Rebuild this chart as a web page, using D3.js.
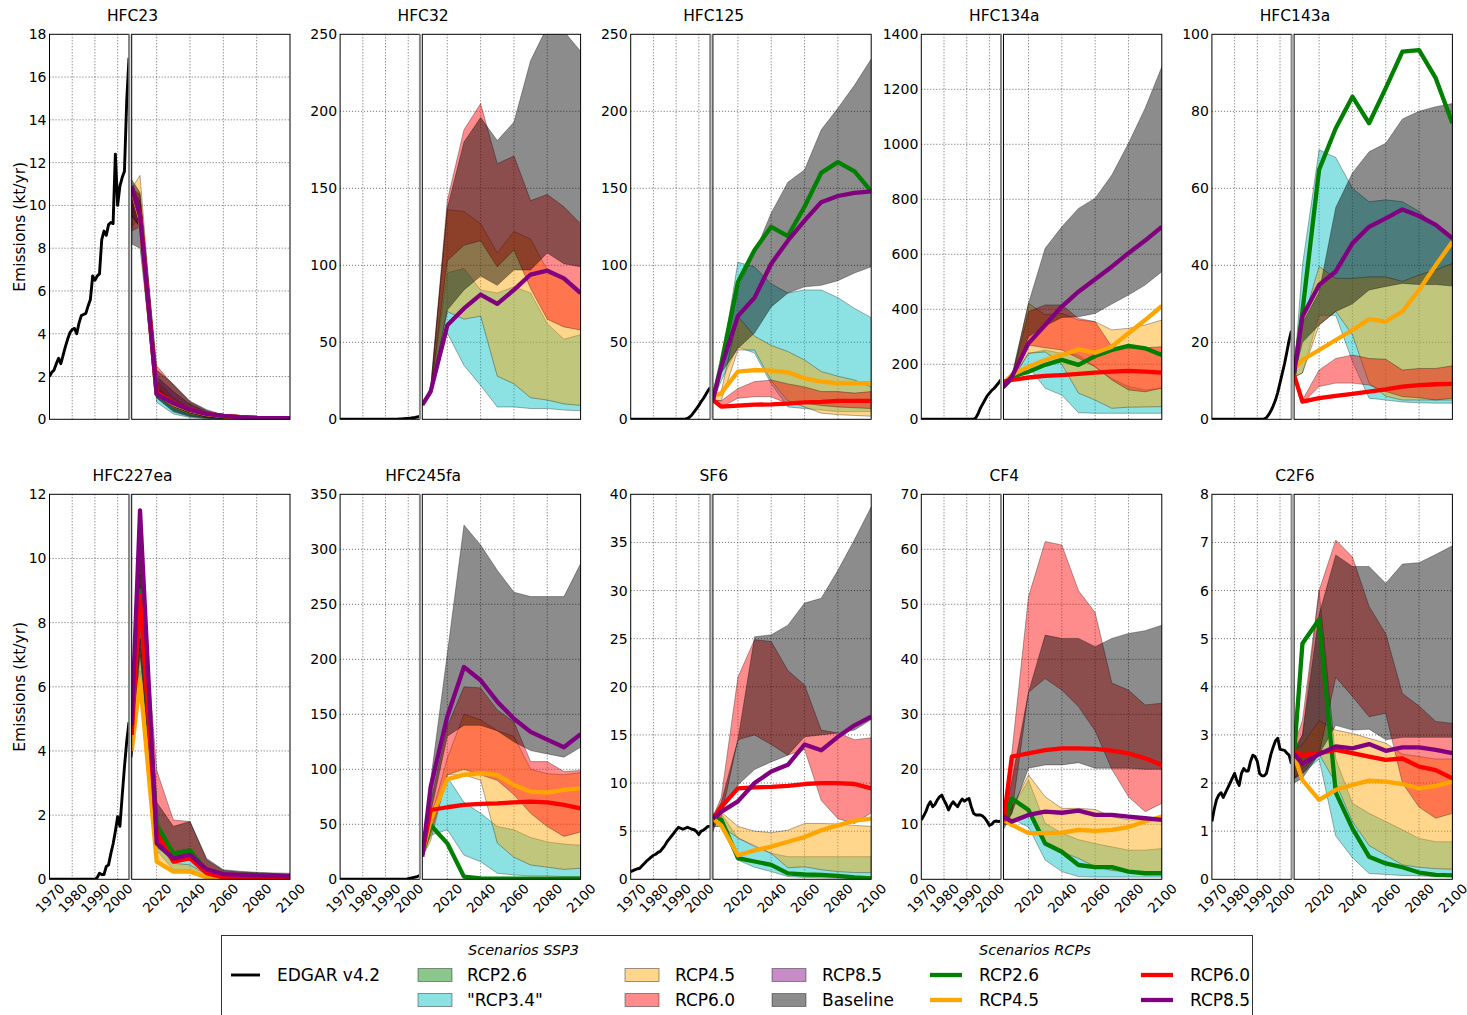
<!DOCTYPE html>
<html><head><meta charset="utf-8">
<script src="https://cdn.jsdelivr.net/npm/d3@7"></script>
<style>
body{margin:0;background:#fff}
text{font-family:"DejaVu Sans",sans-serif;fill:#000}
</style>
</head><body>
<svg id="c" width="1467" height="1015"></svg>
<script>
// ---------- categories / ticks ----------
const histYears = [1970,1971,1972,1973,1974,1975,1976,1977,1978,1979,1980,1981,1982,1983,1984,1985,1986,1987,1988,1989,1990,1991,1992,1993,1994,1995,1996,1997,1998,1999,2000,2001,2002,2003,2004,2005];
const futYears = [2005,2010,2020,2030,2040,2050,2060,2070,2080,2090,2100];
const gasNames = ["HFC23","HFC32","HFC125","HFC134a","HFC143a","HFC227ea","HFC245fa","SF6","CF4","C2F6"];
const yMaxes = [18,250,250,1400,100,12,350,40,70,8];
const yTickSteps = [2,50,50,200,20,2,50,5,10,1];
const histTicks = [1970,1980,1990,2000];
const futTicks = [2020,2040,2060,2080,2100];
const histGrid = [1980,1990,2000];
const futGrid = [2020,2040,2060,2080];
const sspNames = ["RCP2.6","\"RCP3.4\"","RCP4.5","RCP6.0","RCP8.5","Baseline"];
const sspColors = ["#008000","#00bfbf","#ffa500","#ff0000","#800080","#000000"];
const rcpNames = ["RCP2.6","RCP4.5","RCP6.0","RCP8.5"];
const rcpColors = ["#008000","#ffa500","#ff0000","#800080"];

// ---------- EDGAR v4.2 history (1970-2005) ----------
const histHFC23 = [2.0,2.2,2.3,2.6,2.85,2.6,3.0,3.4,3.75,4.05,4.2,4.25,4.0,4.5,4.85,4.9,4.95,5.3,5.6,6.7,6.5,6.7,6.8,8.4,8.8,8.6,9.1,9.2,9.15,12.4,10.0,10.9,11.3,11.6,14.9,16.9];
const histHFC32 = [0,0,0,0,0,0,0,0,0,0,0,0,0,0,0,0,0,0,0,0,0,0,0,0,0,0.1,0.2,0.3,0.4,0.5,0.6,0.8,1.0,1.2,1.5,1.8];
const histHFC125 = [0,0,0,0,0,0,0,0,0,0,0,0,0,0,0,0,0,0,0,0,0,0,0,0,0.2,0.5,1.5,3,5,7,9,11.5,13.5,16,18.5,20.5];
const histHFC134a = [0,0,0,0,0,0,0,0,0,0,0,0,0,0,0,0,0,0,0,0,0,0,0,0,5,20,40,55,70,85,95,105,112,122,132,143];
const histHFC143a = [0,0,0,0,0,0,0,0,0,0,0,0,0,0,0,0,0,0,0,0,0,0,0,0.1,0.4,1.2,2.2,3.5,5,7,9.5,12,14.5,17.5,20.5,23];
const histHFC227ea = [0,0,0,0,0,0,0,0,0,0,0,0,0,0,0,0,0,0,0,0,0,0.05,0.19,0.15,0.15,0.4,0.45,0.8,1.1,1.5,1.95,1.65,2.6,3.5,4.3,4.9];
const histHFC245fa = [0,0,0,0,0,0,0,0,0,0,0,0,0,0,0,0,0,0,0,0,0,0,0,0,0,0,0,0,0,0,0.5,1,1.5,2,2.5,3.5];
const histSF6 = [0.8,0.9,1.0,1.1,1.15,1.4,1.65,1.9,2.1,2.3,2.5,2.6,2.8,2.9,3.2,3.5,3.9,4.2,4.5,4.8,5.1,5.4,5.3,5.2,5.3,5.4,5.3,5.2,5.15,4.95,4.65,5.0,5.1,5.3,5.5,5.5];
const histCF4 = [10.8,11.5,12.3,13.4,14.1,13.2,13.6,14.4,15.0,15.3,14.4,13.6,12.6,13.5,14.1,13.6,13.2,14.0,14.6,14.2,14.5,14.7,13.2,12.0,11.7,11.7,11.7,11.5,11.1,10.5,9.8,10.0,10.5,10.6,10.5,10.6];
const histC2F6 = [1.2,1.45,1.65,1.75,1.8,1.7,1.8,1.9,2.0,2.1,2.2,2.05,1.95,2.2,2.3,2.25,2.25,2.45,2.58,2.55,2.45,2.2,2.15,2.15,2.2,2.4,2.6,2.75,2.88,2.93,2.7,2.69,2.68,2.62,2.58,2.4];

// ---------- RCP lines [RCP2.6, RCP4.5, RCP6.0, RCP8.5] ----------
const rcpHFC23 = [
  [10.9,9.5,1.17,0.75,0.44,0.25,0.16,0.1,0.06,0.05,0.05],
  [10.8,9.4,1.2,0.72,0.42,0.24,0.15,0.1,0.06,0.05,0.05],
  [10.8,9.6,1.25,0.78,0.45,0.26,0.16,0.1,0.06,0.05,0.05],
  [10.9,9.5,1.17,0.75,0.44,0.25,0.16,0.1,0.06,0.05,0.05]];
const rcpHFC32 = [null,null,null,[9.3,18,61,72,81,75,84,94,96.5,91.5,82]];
const rcpHFC125 = [
  [12.6,36,89,110,125,119,138,160,167,161,148],
  [15,17,31,32,31.6,30.5,26.6,24.5,23.4,23.4,23.4],
  [12.6,8.2,8.9,9.5,9.7,10.2,11,11.3,11.9,12,11.9],
  [12.6,34,67,79,101,116,129,141,145,147,148]];
const rcpHFC134a = [
  [131,155,173,198,216,198,230,252,267,258,234],
  [131,161,191,216,234,254,242,264,313,361,412],
  [137,143,152,158,161,165,170,173,176,173,170],
  [119,155,276,343,410,464,509,555,604,650,700]];
const rcpHFC143a = [
  [11.5,28,64.8,75.6,83.8,76.9,86,95.5,95.9,88.6,76.9],
  [13.2,15.4,18,20.6,23.2,26,25.4,28,33.6,40,46.1],
  [11.5,4.6,5.5,6.1,6.6,7.2,7.8,8.5,8.9,9.1,9.2],
  [12,26.7,34.9,38.4,45.7,50,52.2,54.5,52.8,50.5,47]];
const rcpHFC227ea = [
  [4.5,9.0,1.7,0.8,0.9,0.24,0.1,0.09,0.08,0.08,0.08],
  [4.0,6.2,0.55,0.24,0.24,0.06,0.02,0.01,0.01,0.01,0.01],
  [4.5,8.86,1.43,0.55,0.65,0.19,0.06,0.05,0.05,0.05,0.05],
  [4.8,11.5,1.12,0.65,0.76,0.31,0.16,0.14,0.12,0.11,0.1]];
const rcpHFC245fa = [
  [23,49.4,32.7,2.4,0.9,0.5,0.5,0.5,0.5,0.5,0.5],
  [23.6,54,91,95,96.4,95,85.7,79.7,78.8,81.2,82.7],
  [23.6,63,65.5,67.6,68.5,69,70,70.6,70,67.6,64.5],
  [20.6,84,148,193,181,161.5,146,134,127,120,132]];
const rcpSF6 = [
  [6.3,6.2,2.2,1.85,1.5,0.62,0.5,0.45,0.35,0.2,0.1],
  [6.3,5.6,2.5,3.0,3.4,3.9,4.4,5.1,5.6,6.1,6.3],
  [6.3,7.5,9.45,9.55,9.6,9.7,9.9,10.0,10.0,9.9,9.45],
  [6.3,7.0,8.1,10.0,11.2,11.9,14.0,13.4,14.8,16.0,16.9]];
const rcpCF4 = [
  [10.2,14.7,12.6,6.5,5.0,2.6,2.2,2.2,1.4,1.1,1.1],
  [10.8,9.9,8.4,8.4,8.5,9.0,8.8,9.0,9.5,10.5,11.4],
  [10.5,22.3,22.9,23.5,23.8,23.8,23.7,23.4,22.9,22.0,20.8],
  [11.4,10.5,11.7,12.3,12.1,12.5,11.7,11.7,11.4,11.1,10.8]];
const rcpC2F6 = [
  [2.6,4.9,5.4,1.8,1.06,0.47,0.33,0.25,0.14,0.09,0.08],
  [2.58,2.06,1.65,1.86,1.96,2.05,2.03,1.98,1.89,1.94,2.03],
  [2.65,2.58,2.62,2.69,2.62,2.55,2.48,2.51,2.34,2.27,2.1],
  [2.6,2.4,2.6,2.76,2.72,2.81,2.67,2.74,2.74,2.69,2.62]];

// ---------- SSP3 ranges [low, high] per scenario: RCP2.6, "RCP3.4", RCP4.5, RCP6.0, RCP8.5, Baseline ----------
const sspHFC23 = [
  [[9.5,9.0,1.0,0.4,0.15,0.06,0.03,0.02,0.01,0.01,0.01],[10.5,10.0,1.6,0.8,0.4,0.2,0.08,0.05,0.03,0.02,0.02]],
  [[9.5,9.0,0.8,0.25,0.08,0.03,0.01,0.01,0.01,0.01,0.01],[10.5,10.0,1.5,0.7,0.35,0.15,0.06,0.03,0.02,0.02,0.02]],
  [[9.0,9.5,1.1,0.5,0.2,0.08,0.03,0.02,0.01,0.01,0.01],[10.8,11.4,1.8,1.0,0.5,0.25,0.12,0.06,0.04,0.03,0.03]],
  [[8.8,9.0,1.2,0.6,0.3,0.1,0.05,0.03,0.02,0.02,0.02],[10.8,10.5,2.5,1.6,0.8,0.4,0.18,0.1,0.06,0.05,0.04]],
  [[9.5,9.0,1.1,0.6,0.3,0.12,0.05,0.03,0.02,0.02,0.02],[10.8,10.2,2.0,1.3,0.7,0.35,0.15,0.08,0.05,0.04,0.04]],
  [[8.2,8.0,1.0,0.35,0.12,0.05,0.02,0.01,0.01,0.01,0.01],[11.2,10.6,2.3,1.65,0.85,0.45,0.2,0.1,0.06,0.05,0.04]]];
const sspHFC32 = [
  null,
  [[9,17,56,35,22,8,8,7,7,6,5.5],[10,19,95,98,84,82,86,82,62,52,55]],
  [[9,17,70,65,67,28,23,14,12.5,10,9],[10,20,136,135,127,108,122,117,97,90,82]],
  [[9,17,103,113,116,99,110,85,65,60,58],[10,20,142,188,205,166,171,142,146,138,127]],
  null,
  [[9,17,71,84,93,87,97,97,108,101,99],[10,20,137,180,196,181,193,233,255,252,239]]];
const sspHFC125 = [
  null,
  [[12,25,47,43,23,8,7,6,5,5,5],[12,35,102,99,88,82,84,84,79,72,66]],
  [[12,12,45,45,25,12,8,4,3,2.5,2],[13,18,67,54,48,44,38.5,31,28,25.5,21]],
  [[12,8,13.6,14.7,14.7,10,10.4,9,8,7.5,7],[12.6,12,20,24.5,25.5,23,21,18,18,17,18]],
  null,
  [[12,30,46,56,73,82,86,87,90,95,99],[13,33,85,108,134,154,162,188,202,217,234]]];
const sspHFC134a = [
  null,
  [[110,140,191,113,88,24,22,22,22,22,22],[115,150,240,252,240,234,191,149,119,107,113]],
  [[110,140,240,245,200,95,70,40,44,45,46],[115,150,422,380,385,361,355,325,331,343,361]],
  [[110,140,270,260,252,222,191,143,107,100,113],[115,150,391,416,416,367,355,264,258,260,264]],
  null,
  [[110,140,300,340,370,373,385,419,452,488,537],[120,160,422,622,700,767,804,888,1004,1131,1282]]];
const sspHFC143a = [
  null,
  [[11,12,27,27,15,5.5,5,4.5,4.3,4.2,4.2],[12,40,70,68,60,56.5,57,56.5,54,50,46.6]],
  [[11,12,24.5,28,22,9.4,6,5,5,5,5],[12,25,39.7,36.6,36.6,37,37,35.8,37.5,38.8,40.5]],
  [[11,4.2,8.5,9.4,9.4,8.9,7.2,5.9,5.6,5,5.5],[11.5,5,12.8,15.8,16.7,15.8,15.6,12.8,13.2,13.2,13.9]],
  null,
  [[11,20,24.5,28,30,33.6,34.5,35.3,35,35,34.6],[12,25,33,55,64,69.5,71.7,78,80,81.2,82]]];
const sspHFC227ea = [
  [[4.0,8.5,1.2,0.6,0.7,0.2,0.08,0.07,0.06,0.06,0.06],[4.8,9.2,1.7,0.85,0.95,0.3,0.12,0.1,0.09,0.09,0.08]],
  [[3.8,6.5,0.9,0.3,0.3,0.08,0.04,0.03,0.03,0.03,0.03],[4.8,7.5,1.3,0.6,0.65,0.25,0.1,0.08,0.07,0.07,0.06]],
  [[3.8,6.0,0.6,0.25,0.22,0.05,0.02,0.01,0.01,0.01,0.01],[4.8,7.2,1.1,0.5,0.45,0.15,0.05,0.04,0.03,0.03,0.03]],
  [[3.8,7.5,1.4,0.6,0.7,0.2,0.05,0.05,0.05,0.04,0.04],[5.0,10,3.4,1.85,1.8,0.6,0.27,0.22,0.2,0.18,0.15]],
  [[4.2,9.5,1.0,0.6,0.7,0.25,0.12,0.1,0.09,0.09,0.08],[5.0,11.3,1.3,0.75,0.85,0.35,0.18,0.15,0.13,0.12,0.11]],
  [[3.8,7.0,1.5,0.8,0.85,0.35,0.15,0.12,0.1,0.1,0.09],[5.0,10.5,2.4,1.65,1.8,0.65,0.3,0.25,0.22,0.2,0.19]]];
const sspHFC245fa = [
  null,
  [[20,40,45,22,16,5.5,4,3,3,2.5,2.4],[22,60,93,70,60,48,45,38,34,32,31]],
  [[20,35,95,95,90,33,20,13,11,9,10],[22,55,110,150,145,135,130,100,96,95,97]],
  [[20,40,95,100,95,90,77,60,48,39,43],[22,70,139,175,174,154,143,107,107,98,99]],
  null,
  [[20,60,130,140,140,135,125,117,114,111,120],[22,90,205,322,304,281,261,257,257,257,287]]];
const sspSF6 = [
  null,
  [[5.5,5.5,2.0,1.25,0.8,0.28,0.2,0.15,0.12,0.1,0.1],[6.5,6.8,4.3,3.4,2.7,2.35,2.35,2.35,2.35,2.35,2.35]],
  [[5.5,5.5,4.3,3.5,2.7,1.2,1.3,1.0,0.8,0.7,0.7],[6.8,7.0,5.5,5.0,4.85,5.1,5.8,5.8,5.75,5.6,5.5]],
  [[5.5,6.5,14.5,15,14,12.9,13.5,8.2,6.3,5.8,6.9],[6.5,8.5,21,24.9,24.7,21.7,20.2,15.5,15.2,14.5,14.7]],
  null,
  [[5,7,9.8,11.4,12.2,12.9,14.8,15,15.2,15.5,16.6],[6.5,8,14.5,25.2,25.4,26.4,28.7,29.2,32.1,35.3,38.7]]];
const sspCF4 = [
  null,
  [[10,11,9.5,3.5,1.4,0.5,0.4,0.4,0.4,0.4,0.4],[11,13,18,10.2,8.4,7.2,6.5,5.9,5.3,5.3,5.6]],
  [[10,10,12,6.5,5,3.8,2.3,1.6,1.4,1.3,1.2],[11,13,19,15,12.9,12.9,12.7,11.4,10.8,10.8,10.8]],
  [[10,12,34,36.5,34.4,31.4,27,20,15,12.3,13.8],[11,23,51.4,61.4,60.8,52.5,48.5,35.7,34.4,31.7,32]],
  null,
  [[9,12,20.2,20.8,20.8,21.2,20.2,20.2,20.2,20.0,20.0],[11,18,34,44.4,43.8,43.8,42.3,43.8,44.7,45.2,46.2]]];
const sspC2F6 = [
  null,
  [[2.1,2.2,2.5,0.9,0.45,0.12,0.1,0.08,0.07,0.06,0.06],[2.6,3.0,6.0,2.5,1.58,1.37,1.2,1.03,0.85,0.78,0.78]],
  [[2.1,2.3,2.6,2.0,1.2,0.7,0.5,0.3,0.25,0.22,0.21],[2.7,2.8,3.3,3.1,3.03,2.93,2.83,2.6,2.55,2.5,2.5]],
  [[2.1,2.2,2.6,4.2,3.8,3.38,3.45,2.0,1.5,1.27,1.37],[2.8,3.3,6.0,7.05,6.7,5.67,5.1,3.86,3.6,3.28,3.24]],
  null,
  [[2.0,2.1,2.6,3.2,3.1,3.12,2.9,2.95,2.95,2.95,2.95],[2.7,3.0,5.5,6.74,6.5,6.5,6.15,6.55,6.58,6.75,6.93]]];

const allHist = [histHFC23,histHFC32,histHFC125,histHFC134a,histHFC143a,histHFC227ea,histHFC245fa,histSF6,histCF4,histC2F6];
const allRcp = [rcpHFC23,rcpHFC32,rcpHFC125,rcpHFC134a,rcpHFC143a,rcpHFC227ea,rcpHFC245fa,rcpSF6,rcpCF4,rcpC2F6];
const allSsp = [sspHFC23,sspHFC32,sspHFC125,sspHFC134a,sspHFC143a,sspHFC227ea,sspHFC245fa,sspSF6,sspCF4,sspC2F6];

// ---------- drawing ----------
const svg = d3.select("#c");
const defs = svg.append("defs");
svg.append("rect").attr("width",1467).attr("height",1015).attr("fill","#fff");
const fmtInt = d3.format("d");

gasNames.forEach((name, i) => {
  const row = Math.floor(i / 5), col = i % 5;
  const left = 49.5 + col * 290.6;
  const top = row ? 494.3 : 34.3, bottom = top + 385;
  const hL = left, hR = left + 79.5, fL = left + 82.2, fR = left + 240.5;
  const xH = d3.scaleLinear().domain([1970, 2005]).range([hL, hR]);
  const xF = d3.scaleLinear().domain([2005, 2100]).range([fL, fR]);
  const y = d3.scaleLinear().domain([0, yMaxes[i]]).range([bottom, top]);
  const yTicks = d3.range(0, yMaxes[i] + 1e-9, yTickSteps[i]);

  defs.append("clipPath").attr("id", "ch" + i).append("rect")
    .attr("x", hL).attr("y", top).attr("width", hR - hL).attr("height", bottom - top);
  defs.append("clipPath").attr("id", "cf" + i).append("rect")
    .attr("x", fL).attr("y", top).attr("width", fR - fL).attr("height", bottom - top);

  const g = svg.append("g");
  // grids
  const grid = g.append("g").attr("stroke", "#222").attr("stroke-width", 0.7)
    .attr("stroke-dasharray", "1,2");
  yTicks.slice(1, -1).forEach(v => {
    grid.append("line").attr("x1", hL).attr("x2", hR).attr("y1", y(v)).attr("y2", y(v));
    grid.append("line").attr("x1", fL).attr("x2", fR).attr("y1", y(v)).attr("y2", y(v));
  });
  histGrid.forEach(v => grid.append("line").attr("x1", xH(v)).attr("x2", xH(v)).attr("y1", top).attr("y2", bottom));
  futGrid.forEach(v => grid.append("line").attr("x1", xF(v)).attr("x2", xF(v)).attr("y1", top).attr("y2", bottom));

  // SSP3 bands
  const fg = g.append("g").attr("clip-path", `url(#cf${i})`);
  allSsp[i].forEach((pair, s) => {
    if (!pair) return;
    const idx = futYears.map((yr, k) => k);
    const area = d3.area()
      .x(k => xF(futYears[k]))
      .y0(k => y(pair[0][k]))
      .y1(k => y(pair[1][k]));
    fg.append("path").attr("d", area(idx))
      .attr("fill", sspColors[s]).attr("fill-opacity", 0.45)
      .attr("stroke", "#000").attr("stroke-opacity", 0.4).attr("stroke-width", 0.8);
  });
  // RCP lines
  allRcp[i].forEach((vals, r) => {
    if (!vals) return;
    const line = d3.line().x((d, k) => xF(futYears[k])).y(d => y(d));
    fg.append("path").attr("d", line(vals)).attr("fill", "none")
      .attr("stroke", rcpColors[r]).attr("stroke-width", 4.3).attr("stroke-linejoin", "round");
  });
  // history
  const hg = g.append("g").attr("clip-path", `url(#ch${i})`);
  const hline = d3.line().x((d, k) => xH(histYears[k])).y(d => y(d));
  hg.append("path").attr("d", hline(allHist[i])).attr("fill", "none")
    .attr("stroke", "#000").attr("stroke-width", 2.9).attr("stroke-linejoin", "round");

  // frames
  g.append("rect").attr("x", hL).attr("y", top).attr("width", hR - hL).attr("height", bottom - top)
    .attr("fill", "none").attr("stroke", "#000").attr("stroke-width", 1);
  g.append("line").attr("x1", hR + 0.3).attr("x2", hR + 0.3).attr("y1", top).attr("y2", bottom)
    .attr("stroke", "#8a8a8a").attr("stroke-width", 2);
  g.append("rect").attr("x", fL).attr("y", top).attr("width", fR - fL).attr("height", bottom - top)
    .attr("fill", "none").attr("stroke", "#000").attr("stroke-width", 1);

  // y axis
  const ya = g.append("g").attr("transform", `translate(${hL},0)`)
    .call(d3.axisLeft(y).tickValues(yTicks).tickSize(0).tickPadding(3).tickFormat(fmtInt));
  ya.select(".domain").remove();
  ya.selectAll("text").attr("font-size", 14).attr("font-family", "DejaVu Sans").attr("fill", "#000");

  // x axes (bottom row only)
  if (row === 1) {
    const xa1 = g.append("g").attr("transform", `translate(0,${bottom})`)
      .call(d3.axisBottom(xH).tickValues(histTicks).tickSize(0).tickFormat(fmtInt));
    const xa2 = g.append("g").attr("transform", `translate(0,${bottom})`)
      .call(d3.axisBottom(xF).tickValues(futTicks).tickSize(0).tickFormat(fmtInt));
    [xa1, xa2].forEach(a => {
      a.select(".domain").remove();
      a.selectAll("text").attr("font-size", 13.5).attr("font-family", "DejaVu Sans").attr("fill", "#000")
        .attr("y", 0).attr("dy", "0.35em").attr("text-anchor", "middle")
        .attr("transform", "translate(0,19) rotate(-45)");
    });
  }

  // title
  g.append("text").attr("x", left + 83).attr("y", top - 13).attr("text-anchor", "middle")
    .attr("font-size", 15.5).text(name);
  if (col === 0) {
    g.append("text").attr("transform", `translate(20,${(top + bottom) / 2}) rotate(-90)`)
      .attr("text-anchor", "middle").attr("dy", "0.35em").attr("font-size", 15.5)
      .text("Emissions (kt/yr)");
  }
});

// ---------- legend ----------
const lg = svg.append("g");
lg.append("rect").attr("x", 221.5).attr("y", 935.5).attr("width", 1031).attr("height", 100)
  .attr("fill", "#fff").attr("stroke", "#333").attr("stroke-width", 1);
const rowY = [975, 1000];
const hdr = (x, t) => lg.append("text").attr("x", x).attr("y", 955).attr("font-family", "DejaVu Serif")
  .attr("font-style", "italic").attr("font-size", 14.5).text(t);
hdr(468, "Scenarios SSP3");
hdr(979, "Scenarios RCPs");
const ltxt = (x, yy, t) => lg.append("text").attr("x", x).attr("y", yy).attr("dy", "0.35em")
  .attr("font-size", 17).text(t);
// EDGAR
lg.append("line").attr("x1", 231).attr("x2", 260).attr("y1", rowY[0]).attr("y2", rowY[0])
  .attr("stroke", "#000").attr("stroke-width", 2.9);
ltxt(277, rowY[0], "EDGAR v4.2");
// SSP3 patches (column-major, 2 rows)
const patchX = [418, 625, 772];
const textX = [467, 675, 822];
sspNames.forEach((n, s) => {
  const c = Math.floor(s / 2), r = s % 2;
  lg.append("rect").attr("x", patchX[c]).attr("y", rowY[r] - 6.5).attr("width", 34).attr("height", 13)
    .attr("fill", sspColors[s]).attr("fill-opacity", 0.45)
    .attr("stroke", "#000").attr("stroke-opacity", 0.4).attr("stroke-width", 1);
  ltxt(textX[c], rowY[r], n);
});
// RCP lines
const lineX = [930, 1141];
const ltX = [979, 1190];
rcpNames.forEach((n, r) => {
  const c = Math.floor(r / 2), rr = r % 2;
  lg.append("line").attr("x1", lineX[c]).attr("x2", lineX[c] + 32).attr("y1", rowY[rr]).attr("y2", rowY[rr])
    .attr("stroke", rcpColors[r]).attr("stroke-width", 4.3);
  ltxt(ltX[c], rowY[rr], n);
});
</script>
</body></html>
